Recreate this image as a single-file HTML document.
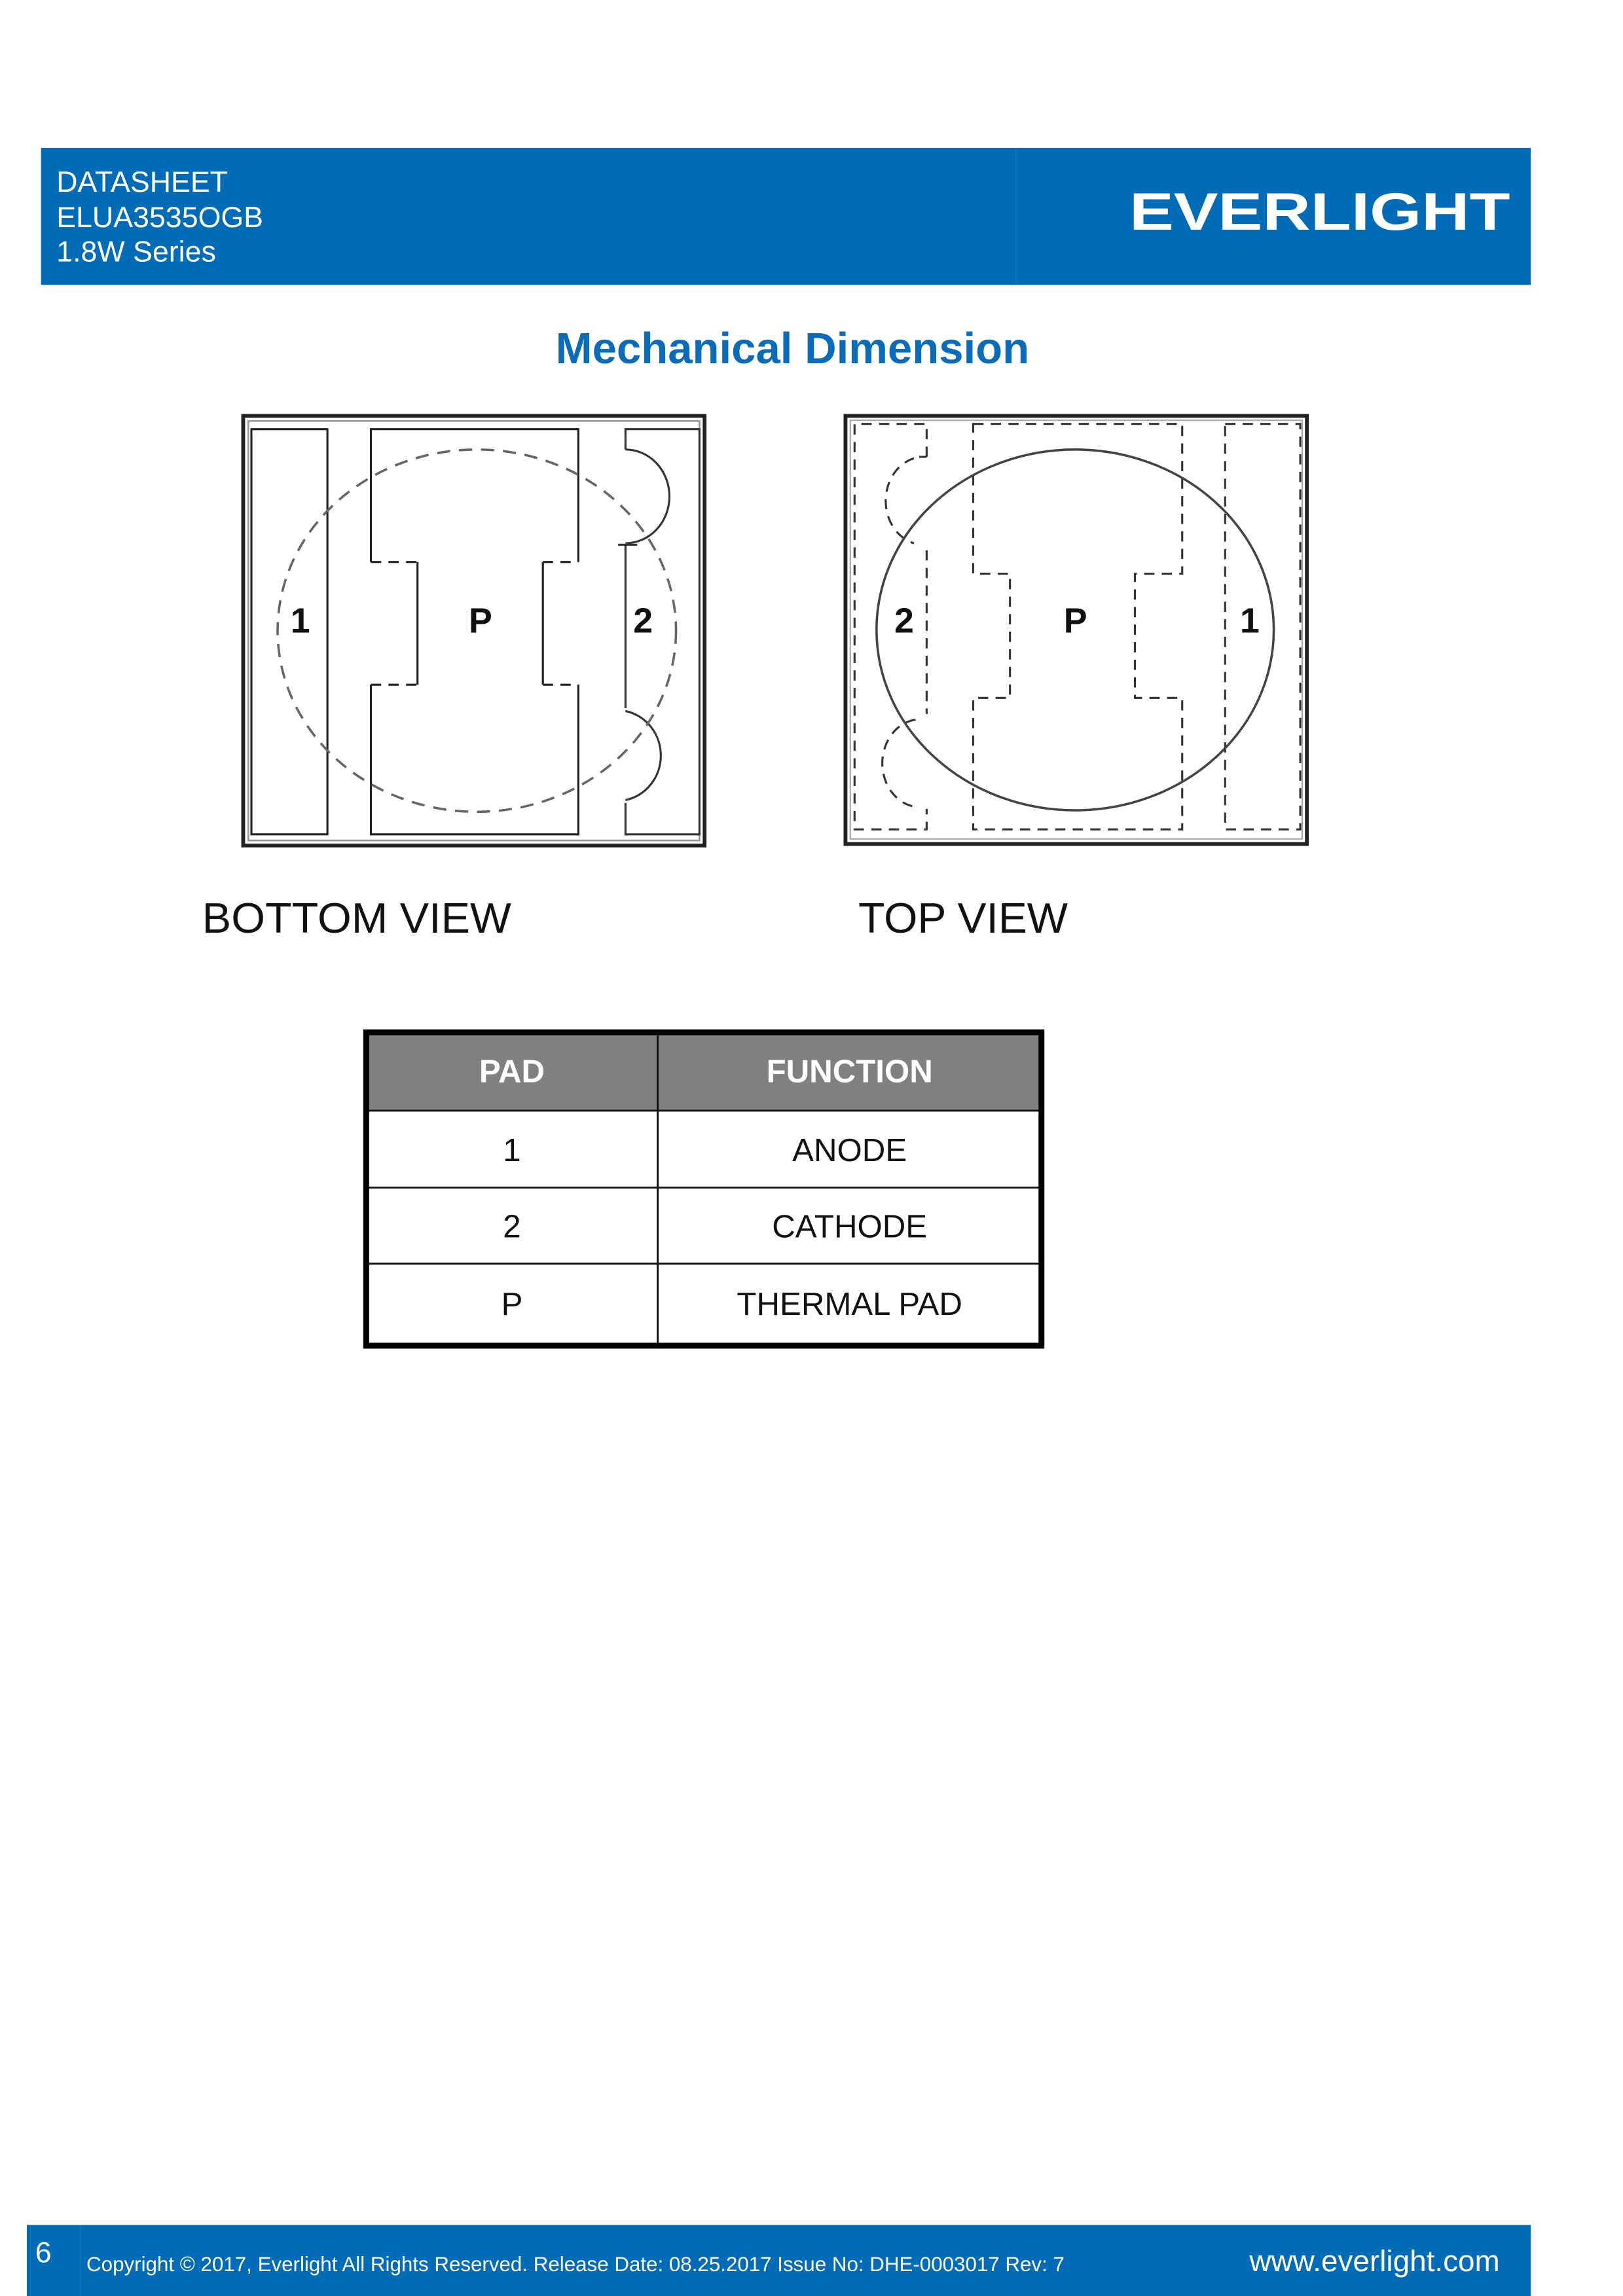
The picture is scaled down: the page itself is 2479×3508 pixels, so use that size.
<!DOCTYPE html>
<html><head><meta charset="utf-8"><style>
html,body{margin:0;padding:0;background:#fff;}
svg{display:block;}
text{font-family:"Liberation Sans",Arial,sans-serif;}
</style></head><body>
<svg width="2479" height="3508" viewBox="0 0 1108 1568" xmlns="http://www.w3.org/2000/svg">
<rect width="1108" height="1568" fill="#fff"/>
<!-- header -->
<rect x="28" y="101" width="1017" height="93.5" fill="#006bb6"/>
<line x1="693.5" y1="101" x2="693.5" y2="194.5" stroke="#1572ba" stroke-width="1"/>
<text x="38.5" y="131" font-size="20" fill="#fff">DATASHEET</text>
<text x="38.5" y="155" font-size="20" fill="#fff">ELUA3535OGB</text>
<text x="38.5" y="178.5" font-size="20" fill="#fff">1.8W Series</text>
<text x="771" y="157" font-size="36" font-weight="bold" fill="#fff" textLength="260" lengthAdjust="spacingAndGlyphs">EVERLIGHT</text>

<text x="541" y="248" font-size="30" font-weight="bold" fill="#0a6cb8" text-anchor="middle">Mechanical Dimension</text>

<!-- bottom view -->
<g fill="none">
<rect x="166" y="284" width="315" height="293.4" stroke="#222" stroke-width="2.6"/>
<rect x="169.5" y="287.5" width="308" height="286.5" stroke="#999" stroke-width="1.2"/>
<rect x="171.6" y="293.1" width="51.9" height="276.7" stroke="#222" stroke-width="1.4"/>
<g stroke="#222" stroke-width="1.4">
<path d="M253.2 383.8 V293.1 H394.8 V383.8"/>
<path d="M253.2 467.6 V569.8 H394.8 V467.6"/>
<path d="M285 383.8 V467.6"/>
<path d="M370.6 383.8 V467.6"/>
</g>
<g stroke="#222" stroke-width="1.4" stroke-dasharray="7,5">
<path d="M253.2 383.8 H285"/><path d="M253.2 467.6 H285"/>
<path d="M370.6 383.8 H394.8"/><path d="M370.6 467.6 H394.8"/>
</g>
<g stroke="#333" stroke-width="1.4">
<path d="M427 307 V293.1 H477.5 V569.8 H427 V548.4"/>
<path d="M427 307 A30 32 0 0 1 427 371"/>
<path d="M422 372 H435"/>
<path d="M427 372 V483.6"/>
<path d="M427 485.6 A30 31 0 0 1 427 546.4"/>
</g>
<ellipse cx="325.5" cy="430.7" rx="136" ry="123.7" stroke="#666" stroke-width="1.6" stroke-dasharray="9,6"/>
</g>
<text x="205" y="432" font-size="24" font-weight="bold" fill="#111" text-anchor="middle">1</text>
<text x="328" y="432" font-size="24" font-weight="bold" fill="#111" text-anchor="middle">P</text>
<text x="439" y="432" font-size="24" font-weight="bold" fill="#111" text-anchor="middle">2</text>

<!-- top view -->
<g fill="none">
<rect x="577.2" y="284" width="315" height="292.4" stroke="#222" stroke-width="2.6"/>
<rect x="580.5" y="287" width="308.5" height="286" stroke="#aaa" stroke-width="1"/>
<g stroke="#333" stroke-width="1.4" stroke-dasharray="7,5">
<path d="M632.6 312 V289.5 H583.4 V566.4 H632.6 V552.4"/>
<path d="M627.5 312 H632.6"/>
<path d="M624 313 A26 30 0 0 0 624 371"/>
<path d="M632.6 375.8 V487.6"/>
<path d="M625 491.5 A26 30 0 0 0 625 551"/>
<path d="M664.4 289.5 H807.1 V391.8 H774.8 V476.6 H807.1 V566.4 H664.4 V476.6 H689.5 V391.8 H664.4 Z"/>
<rect x="836.4" y="289.5" width="51.3" height="276.9"/>
</g>
<ellipse cx="734" cy="430.2" rx="135.6" ry="123.2" stroke="#444" stroke-width="1.6"/>
</g>
<text x="617.2" y="432" font-size="24" font-weight="bold" fill="#111" text-anchor="middle">2</text>
<text x="734.2" y="432" font-size="24" font-weight="bold" fill="#111" text-anchor="middle">P</text>
<text x="853.2" y="432" font-size="24" font-weight="bold" fill="#111" text-anchor="middle">1</text>

<text x="138" y="637" font-size="29" fill="#111" textLength="211" lengthAdjust="spacingAndGlyphs">BOTTOM VIEW</text>
<text x="586" y="637" font-size="29" fill="#111" textLength="143" lengthAdjust="spacingAndGlyphs">TOP VIEW</text>

<!-- table -->
<rect x="250" y="705" width="461" height="53" fill="#808080"/>
<g stroke="#111" stroke-width="1.3">
<line x1="449" y1="705" x2="449" y2="919"/>
<line x1="250" y1="758.5" x2="711" y2="758.5"/>
<line x1="250" y1="811" x2="711" y2="811"/>
<line x1="250" y1="863" x2="711" y2="863"/>
</g>
<rect x="250" y="705" width="461" height="214" fill="none" stroke="#000" stroke-width="4"/>
<g font-size="22" text-anchor="middle">
<text x="349.5" y="739" fill="#fff" font-weight="bold">PAD</text>
<text x="580" y="739" fill="#fff" font-weight="bold">FUNCTION</text>
<text x="349.5" y="793" fill="#111">1</text>
<text x="580" y="793" fill="#111">ANODE</text>
<text x="349.5" y="845" fill="#111">2</text>
<text x="580" y="845" fill="#111">CATHODE</text>
<text x="349.5" y="898" fill="#111">P</text>
<text x="580" y="898" fill="#111">THERMAL PAD</text>
</g>

<!-- footer -->
<rect x="18.3" y="1519.5" width="1026.7" height="48.5" fill="#006bb6"/>
<line x1="55" y1="1520" x2="55" y2="1568" stroke="#1572ba" stroke-width="0.8"/>
<text x="24" y="1545" font-size="20" fill="#fff">6</text>
<text x="59" y="1551" font-size="14" fill="#fff">Copyright © 2017, Everlight All Rights Reserved. Release Date: 08.25.2017 Issue No: DHE-0003017 Rev: 7</text>
<text x="853" y="1551" font-size="20.5" fill="#fff">www.everlight.com</text>
</svg>
</body></html>
